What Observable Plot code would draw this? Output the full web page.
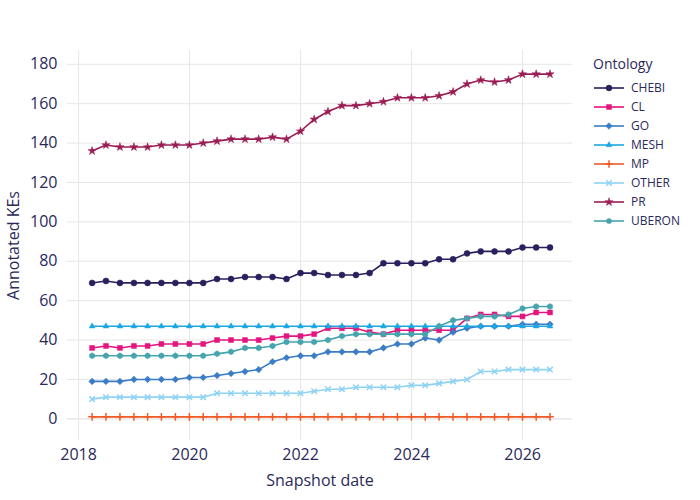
<!DOCTYPE html>
<html><head><meta charset="utf-8">
<script src="https://cdn.jsdelivr.net/npm/d3@7"></script>
<script src="https://cdn.jsdelivr.net/npm/@observablehq/plot@0.6"></script>
<style>
body{margin:0;background:#fff;font-family:"Open Sans",sans-serif;}
#wrap{position:relative;width:700px;height:500px;}
#legend{position:absolute;left:593px;top:54px;color:#2a2a5a;font-size:12px;}
#legend .t{font-size:14px;margin-bottom:5px;}
#legend .r{display:flex;align-items:center;height:19px;}
#legend svg{margin-right:6px;}
</style></head><body>
<div id="wrap"><div id="chart"></div><div id="legend"></div></div>
<script>
const dates=["2018-03-31","2018-06-30","2018-09-30","2018-12-31","2019-03-31","2019-06-30","2019-09-30","2019-12-31","2020-03-31","2020-06-30","2020-09-30","2020-12-31","2021-03-31","2021-06-30","2021-09-30","2021-12-31","2022-03-31","2022-06-30","2022-09-30","2022-12-31","2023-03-31","2023-06-30","2023-09-30","2023-12-31","2024-03-31","2024-06-30","2024-09-30","2024-12-31","2025-03-31","2025-06-30","2025-09-30","2025-12-31","2026-03-31","2026-06-30"];
const CHEBI=[69,70,69,69,69,69,69,69,69,71,71,72,72,72,71,74,74,73,73,73,74,79,79,79,79,81,81,84,85,85,85,87,87,87];
const CL=[36,37,36,37,37,38,38,38,38,40,40,40,40,41,42,42,43,46,46,46,44,43,45,45,45,45,45,51,53,53,52,52,54,54];
const GO=[19,19,19,20,20,20,20,21,21,22,23,24,25,29,31,32,32,34,34,34,34,36,38,38,41,40,44,46,47,47,47,48,48,48];
const MESH=[47,47,47,47,47,47,47,47,47,47,47,47,47,47,47,47,47,47,47,47,47,47,47,47,47,47,47,47,47,47,47,47,47,47];
const MP=[1,1,1,1,1,1,1,1,1,1,1,1,1,1,1,1,1,1,1,1,1,1,1,1,1,1,1,1,1,1,1,1,1,1];
const OTHER=[10,11,11,11,11,11,11,11,11,13,13,13,13,13,13,13,14,15,15,16,16,16,16,17,17,18,19,20,24,24,25,25,25,25];
const PR=[136,139,138,138,138,139,139,139,140,141,142,142,142,143,142,146,152,156,159,159,160,161,163,163,163,164,166,170,172,171,172,175,175,175];
const UBERON=[32,32,32,32,32,32,32,32,32,33,34,36,36,37,39,39,39,40,42,43,43,43,43,43,43,47,50,51,52,52,53,56,57,57];
const names=["CHEBI","CL","GO","MESH","MP","OTHER","PR","UBERON"];
const seriesVals={CHEBI,CL,GO,MESH,MP,OTHER,PR,UBERON};
const colors=["#2b1f5e","#e4157f","#3b7cc6","#1ba8e2","#f05a28","#8ed3f5","#9b1c55","#46a4ae"];
const symbols=["circle","square","diamond2","triangle2","plus","times","star","hexagon"];
const sizes=[3,2.8,3,2.8,2.6,2.6,2.6,2.6];
const data=[];
names.forEach(n=>seriesVals[n].forEach((v,i)=>data.push({name:n,date:new Date(dates[i]),value:v})));
const chart=Plot.plot({
  width:585,height:500,marginLeft:67,marginRight:13,marginTop:50,marginBottom:60,
  style:{fontFamily:"Open Sans",fontSize:"12px",color:"#2a2a5a"},
  x:{type:"utc",domain:[new Date("2017-10-20"),new Date("2026-11-25")],ticks:d3.utcYear.every(2),tickFormat:"%Y",grid:true,label:"Snapshot date",labelAnchor:"center",labelArrow:"none",labelOffset:45,tickSize:0,tickPadding:8},
  y:{domain:[-11,187],ticks:[0,20,40,60,80,100,120,140,160,180],grid:true,label:"Annotated KEs",labelAnchor:"center",labelArrow:"none",labelOffset:60,tickSize:0,tickPadding:10},
  color:{domain:names,range:colors},
  symbol:{domain:names,range:symbols},
  marks:[
    Plot.ruleY([0],{stroke:"#e6e6e6"}),
    Plot.line(data,{x:"date",y:"value",z:"name",stroke:"name",strokeWidth:1.6}),
    ...names.map((n,k)=>Plot.dot(data.filter(d=>d.name===n),{x:"date",y:"value",symbol:"name",fill:"name",stroke:"name",r:sizes[k],strokeWidth:k===4||k===5?1.5:0.5}))
  ]
});
chart.querySelectorAll("[aria-label$='grid'] line, [aria-label$='grid'] path").forEach(e=>{e.setAttribute("stroke","#e6e6e6");e.setAttribute("stroke-opacity","1");});
chart.querySelectorAll("[aria-label$='label'] text").forEach(e=>e.style.fontSize="16px");
document.getElementById("chart").appendChild(chart);
const lg=document.getElementById("legend");
lg.innerHTML='<div class="t">Ontology</div>';
const symMap={circle:"symbolCircle",square:"symbolSquare",diamond2:"symbolDiamond2",triangle2:"symbolTriangle2",plus:"symbolPlus",times:"symbolTimes",star:"symbolStar",hexagon:"symbolCircle"};
names.forEach((n,k)=>{
  const r=document.createElement("div");r.className="r";
  const sym=d3.symbol(d3[symMap[symbols[k]]],Math.PI*sizes[k]*sizes[k])();
  r.innerHTML=`<svg width="32" height="12"><line x1="1" x2="31" y1="6" y2="6" stroke="${colors[k]}" stroke-width="1.6"/><path transform="translate(16,6)" d="${sym}" fill="${colors[k]}" stroke="${colors[k]}" stroke-width="${k===4||k===5?1.5:0.5}"/></svg><span>${n}</span>`;
  lg.appendChild(r);
});
</script></body></html>
